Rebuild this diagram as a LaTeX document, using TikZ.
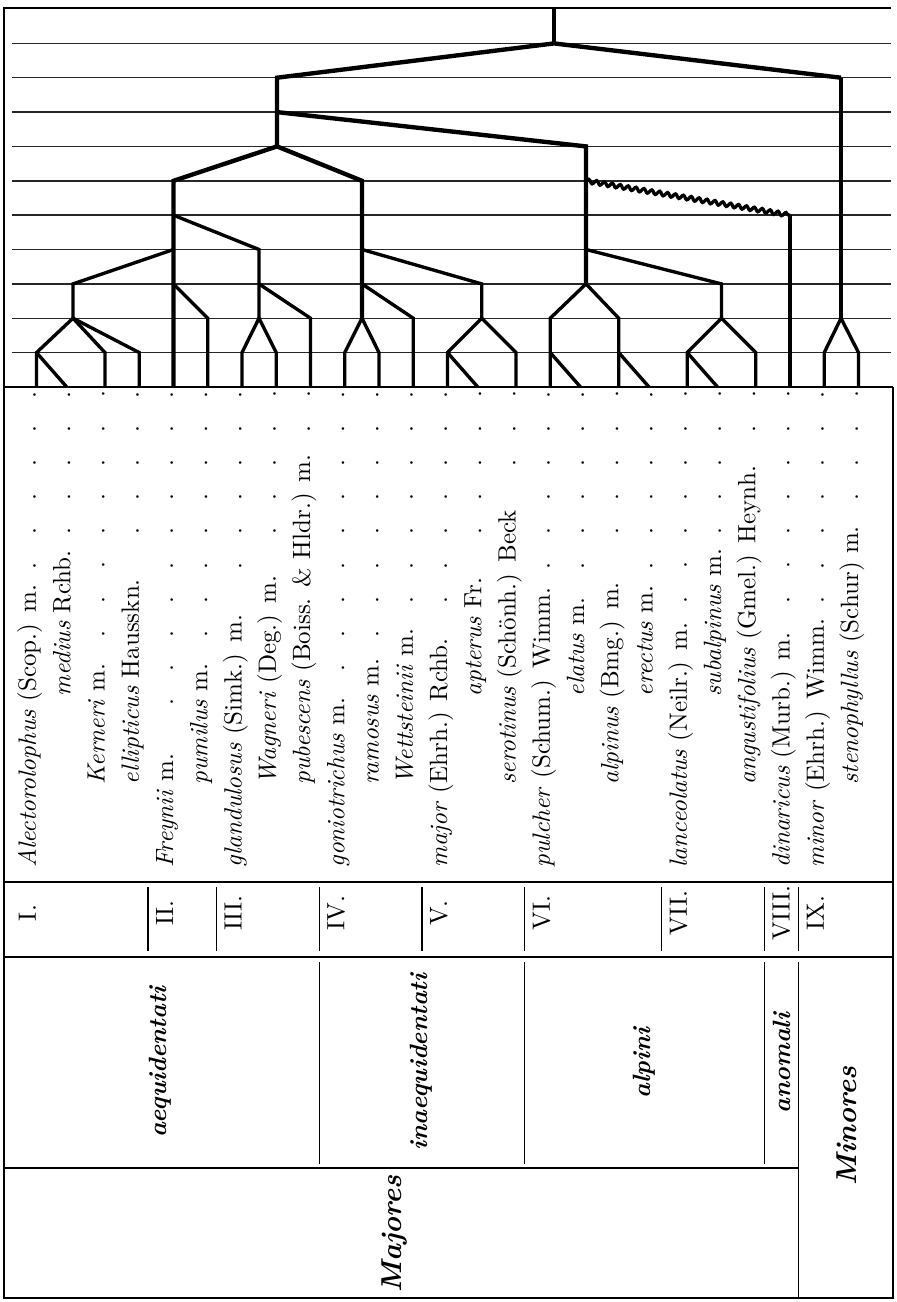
\documentclass[tikz,border=0pt]{standalone}
\usepackage{tikz}
\usetikzlibrary{decorations.pathmorphing}

\begin{document}
\begin{tikzpicture}[x=0.4pt,y=-0.4pt,
  guide/.style={line width=0.6pt,black!85},
  rule/.style={line width=0.55pt},
  branch/.style={line width=1.75pt,line join=miter},
  twig/.style={line width=1.35pt,line join=miter},
  wavy/.style={line width=1.3pt,decorate,decoration={snake,amplitude=0.8pt,segment length=3.2pt}},
  species/.style={rotate=90,anchor=base west,inner sep=0pt,font=\fontsize{10}{12}\selectfont},
  numeral/.style={rotate=90,anchor=base,inner sep=0pt,font=\fontsize{10}{12}\selectfont},
  group/.style={rotate=90,inner sep=0pt,font=\fontsize{10}{12}\selectfont\bfseries\itshape},
  division/.style={rotate=90,inner sep=0pt,font=\fontsize{11.5}{13}\selectfont\bfseries\itshape}]
  \useasboundingbox (0,0) rectangle (897,1302);

  % frame and table rules
  \draw[rule] (891,8) -- (4,8) -- (4,1298) -- (893,1298) -- (893,387);
  \draw[rule] (4,387) -- (893,387);
  \draw[rule] (4,882) -- (893,882);
  \draw[rule] (4,957) -- (893,957);
  \draw[rule] (4,1168) -- (798,1168);
  \foreach \k in {4,6,9,12,15,19,22,23}
    \draw[rule] ({11+34.25*\k},887) -- ({11+34.25*\k},951);
  \foreach \k in {9,15,22}
    \draw[rule] ({11+34.25*\k},962) -- ({11+34.25*\k},1164);
  \draw[rule] (798.75,962) -- (798.75,1298);

  % level lines of the tree
  \foreach \i in {1,...,10}
    \draw[guide] (12,{9+34.36*\i}) -- (891,{9+34.36*\i});

  % leaves and forks
  \foreach \k in {0,...,24}
    \coordinate (l\k) at ({36.5+34.25*\k},387);
  \foreach \k in {1,13,16,18,20}
    \coordinate (l\k) at ({32.5+34.25*\k},387);
  \foreach \k in {0,2,3,6,7,9,10,12,14,15,17,19,21,23,24}
    \coordinate (f\k) at ({36.5+34.25*\k},352.6);

  \coordinate (top)  at (554,9);
  \coordinate (root) at (554,43.4);
  \coordinate (maj)  at (277,77.7);
  \coordinate (min)  at (841,77.7);
  \coordinate (maj3) at (277,112.1);
  \coordinate (maj4) at (277,146.4);
  \coordinate (alp)  at (586,146.4);
  \coordinate (alp5) at (586,180.8);
  \coordinate (alp7) at (586,249.5);
  \coordinate (alp8) at (586,283.9);
  \coordinate (ano)  at (790,215.2);
  \coordinate (aeq)  at (173.5,180.8);
  \coordinate (ae6)  at (173.5,215.2);
  \coordinate (ae7)  at (173.5,249.5);
  \coordinate (ae8)  at (173.5,283.9);
  \coordinate (ina)  at (362,180.8);
  \coordinate (ina7) at (362,249.5);
  \coordinate (ina8) at (362,283.9);
  \coordinate (ina9) at (362,318.2);
  \coordinate (g1)   at (73,283.9);
  \coordinate (g1b)  at (73,318.2);
  \coordinate (g2)   at (207.75,318.2);
  \coordinate (g3)   at (259,249.5);
  \coordinate (g3a)  at (259,283.9);
  \coordinate (g3b)  at (259,318.2);
  \coordinate (g3c)  at (310.5,318.2);
  \coordinate (g4c)  at (413.25,318.2);
  \coordinate (g5)   at (481.75,283.9);
  \coordinate (g5b)  at (481.75,318.2);
  \coordinate (g6a)  at (550.25,318.2);
  \coordinate (g6b)  at (618.75,318.2);
  \coordinate (g7)   at (721.5,283.9);
  \coordinate (g7b)  at (721.5,318.2);
  \coordinate (g9)   at (841,318.2);

  % tree
  \draw[branch] (top) -- (root);
  \draw[branch] (min) -- (root) -- (maj) -- (maj4);
  \draw[branch] (maj3) -- (alp) -- (alp8);
  \draw[branch] (l4) -- (aeq) -- (maj4) -- (ina) -- (ina9);
  \draw[branch] (min) -- (g9);
  \draw[wavy] (alp5) -- (ano);
  \draw[twig] (ano) -- (l22);
  \draw[twig] (ae6) -- (g3) -- (g3b);
  \draw[twig] (ae7) -- (g1) -- (g1b);
  \draw[twig] (ae8) -- (g2) -- (l5);
  \draw[twig] (l0) -- (f0) -- (g1b) -- (f3) -- (l3);
  \draw[twig] (g1b) -- (f2) -- (l2);
  \draw[twig] (f0) -- (l1);
  \draw[twig] (g3a) -- (g3c) -- (l8);
  \draw[twig] (l6) -- (f6) -- (g3b) -- (f7) -- (l7);
  \draw[twig] (ina7) -- (g5) -- (g5b);
  \draw[twig] (ina8) -- (g4c) -- (l11);
  \draw[twig] (l9) -- (f9) -- (ina9) -- (f10) -- (l10);
  \draw[twig] (l12) -- (f12) -- (g5b) -- (f14) -- (l14);
  \draw[twig] (f12) -- (l13);
  \draw[twig] (alp7) -- (g7) -- (g7b);
  \draw[twig] (l15) -- (g6a) -- (alp8) -- (g6b) -- (l17);
  \draw[twig] (f15) -- (l16);
  \draw[twig] (f17) -- (l18);
  \draw[twig] (l19) -- (f19) -- (g7b) -- (f21) -- (l21);
  \draw[twig] (f19) -- (l20);
  \draw[twig] (l23) -- (f23) -- (g9) -- (f24) -- (l24);

  % species with leaders
  \foreach \k/\ind/\txt in {
      0/9.2pt/{\textit{Alectorolophus} (Scop.) m.},
      1/77.6pt/{\textit{medius} Rchb.},
      2/42.4pt/{\textit{Kerneri} m.},
      3/42.4pt/{\textit{ellipticus} Hausskn.},
      4/9.2pt/{\textit{Freynii} m.},
      5/42.4pt/{\textit{pumilus} m.},
      6/9.2pt/{\textit{glandulosus} (Simk.) m.},
      7/42.4pt/{\textit{Wagneri} (Deg.) m.},
      8/42.4pt/{\textit{pubescens} (Boiss. \& Hldr.) m.},
      9/9.2pt/{\textit{goniotrichus} m.},
      10/42.4pt/{\textit{ramosus} m.},
      11/42.4pt/{\textit{Wettsteinii} m.},
      12/9.2pt/{\textit{major} (Ehrh.) Rchb.},
      13/77.6pt/{\textit{apterus} Fr.},
      14/42.4pt/{\textit{serotinus} (Schönh.) Beck},
      15/9.2pt/{\textit{pulcher} (Schum.) Wimm.},
      16/77.6pt/{\textit{elatus} m.},
      17/42.4pt/{\textit{alpinus} (Bmg.) m.},
      18/77.6pt/{\textit{erectus} m.},
      19/9.2pt/{\textit{lanceolatus} (Neilr.) m.},
      20/77.6pt/{\textit{subalpinus} m.},
      21/42.4pt/{\textit{angustifolius} (Gmel.) Heynh.},
      22/9.2pt/{\textit{dinaricus} (Murb.) m.},
      23/9.2pt/{\textit{minor} (Ehrh.) Wimm.},
      24/42.4pt/{\textit{stenophyllus} (Schur) m.}}
    \node[species] (s\k) at ({36+34.25*\k},890.9)
      {\makebox[205.2pt][l]{\hspace*{\ind}\txt\leaders\hbox to 13.68pt{\hss.\hss}\hfill}};

  % sections
  \foreach \k/\num in {0/I.,4/II.,6/III.,9/IV.,12/V.,15/VI.,19/VII.,22/VIII.,23/IX.}
    \node[numeral] (n\k) at ({36+34.25*\k},913) {\num};

  \node[group] (aequi)   at (160,1062) {aequidentati};
  \node[group] (inaequi) at (421,1062) {inaequidentati};
  \node[group] (alpini)  at (644,1063) {alpini};
  \node[group] (anomali) at (782,1063) {anomali};
  \node[division] (majores) at (395,1234) {Majores};
  \node[division] (minores) at (847,1126) {Minores};
\end{tikzpicture}
\end{document}
